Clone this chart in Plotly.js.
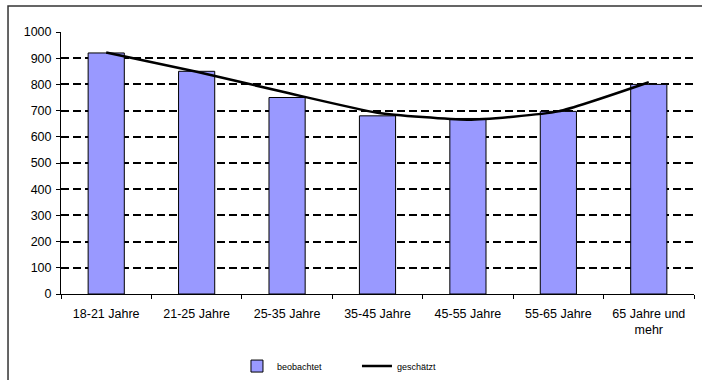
<!DOCTYPE html>
<html>
<head>
<meta charset="utf-8">
<script src="https://cdn.plot.ly/plotly-3.0.1.min.js"></script>
<style>
html,body{margin:0;padding:0;background:#fff;}
#chart{width:702px;height:380px;}
</style>
</head>
<body>
<div id="chart"></div>
<script>
var categories = ["18-21 Jahre", "21-25 Jahre", "25-35 Jahre", "35-45 Jahre", "45-55 Jahre", "55-65 Jahre", "65 Jahre und<br>mehr"];
var beobachtet = [920, 850, 750, 680, 670, 697, 800];
var geschaetzt = [922, 848, 768, 692, 665, 697, 808];
var yTicks = [0, 100, 200, 300, 400, 500, 600, 700, 800, 900, 1000];

var font = "Liberation Sans, Arial, sans-serif";

var traces = [
  {
    type: "bar",
    name: "beobachtet",
    x: categories,
    y: beobachtet,
    width: 0.4,
    marker: {color: "#9999FF", line: {color: "#000000", width: 1}},
    hoverinfo: "x+y"
  },
  {
    type: "scatter",
    mode: "lines",
    name: "geschätzt",
    x: categories,
    y: geschaetzt,
    line: {color: "#000000", width: 2.5, shape: "spline", smoothing: 0.5},
    hoverinfo: "x+y"
  }
];

var layout = {
  width: 702,
  height: 380,
  margin: {l: 61, r: 8, t: 32, b: 86, autoexpand: false},
  paper_bgcolor: "#ffffff",
  plot_bgcolor: "#ffffff",
  font: {family: font, size: 12.5, color: "#000000"},
  showlegend: true,
  legend: {
    orientation: "h",
    x: 0.278, xanchor: "left",
    y: -0.275, yanchor: "middle",
    font: {family: font, size: 9, color: "#000000"},
    itemwidth: 30,
    entrywidth: 75,
    entrywidthmode: "pixels",
    bgcolor: "rgba(0,0,0,0)",
    tracegroupgap: 0
  },
  xaxis: {
    type: "category",
    showline: true,
    linecolor: "#000000",
    linewidth: 1,
    ticks: "outside",
    tickson: "boundaries",
    ticklen: 4,
    tickcolor: "#000000",
    showgrid: false,
    tickfont: {family: font, size: 12.5, color: "#000000"},
    ticklabelstandoff: 8,
    automargin: false,
    range: [-0.5, 6.5],
    fixedrange: true
  },
  yaxis: {
    range: [0, 1000],
    tickvals: yTicks,
    ticktext: yTicks.map(String),
    showline: true,
    linecolor: "#000000",
    linewidth: 1,
    ticks: "outside",
    ticklen: 4,
    tickcolor: "#000000",
    showgrid: true,
    gridcolor: "#000000",
    gridwidth: 2,
    griddash: "8px,4px",
    zeroline: false,
    tickfont: {family: font, size: 12.5, color: "#000000"},
    ticklabelstandoff: 2,
    automargin: false,
    fixedrange: true
  },
  shapes: [
    {
      type: "rect",
      xref: "paper", yref: "paper",
      x0: -0.0837, x1: 1.05,
      y0: -0.4, y1: 1.0992,
      line: {color: "#333333", width: 1.5},
      fillcolor: "rgba(0,0,0,0)",
      layer: "below"
    }
  ],
  bargap: 0.6
};

Plotly.newPlot("chart", traces, layout, {displayModeBar: false, staticPlot: false});
</script>
</body>
</html>
